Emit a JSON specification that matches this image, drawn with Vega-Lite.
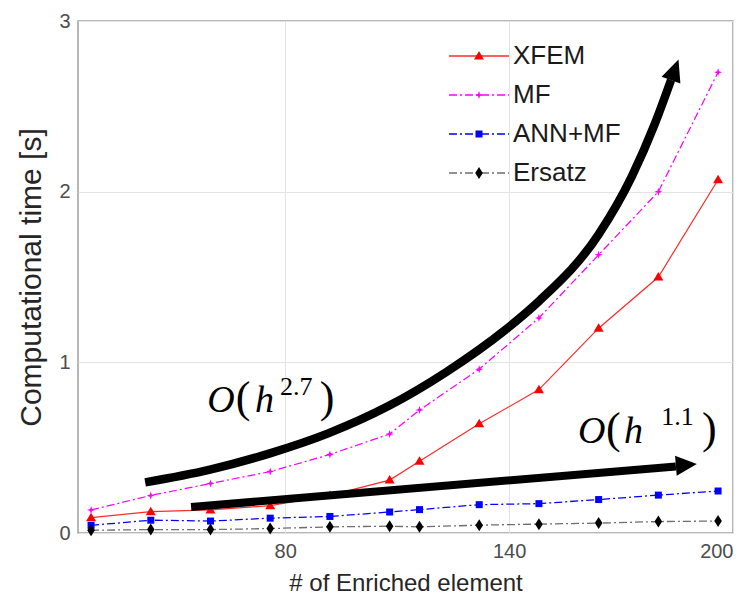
{
  "$schema": "https://vega.github.io/schema/vega-lite/v6.json",
  "width": 655,
  "height": 512,
  "autosize": {"type": "none"},
  "padding": {"left": 78, "top": 21, "right": 20, "bottom": 68},
  "background": "white",
  "config": {
    "view": {"stroke": "#a0a0a0", "strokeWidth": 1.5},
    "axis": {
      "labelFont": "Liberation Sans",
      "labelFontSize": 20,
      "labelColor": "#4d4d4d",
      "titleFont": "Liberation Sans",
      "titleFontSize": 24,
      "titleFontWeight": "normal",
      "titleColor": "#262626",
      "domain": false,
      "ticks": false,
      "gridColor": "#e3e3e3",
      "gridWidth": 1
    }
  },
  "datasets": {
    "series": [
      {"series": "XFEM", "x": 28, "y": 0.09},
      {"series": "XFEM", "x": 44, "y": 0.125},
      {"series": "XFEM", "x": 60, "y": 0.135},
      {"series": "XFEM", "x": 76, "y": 0.16},
      {"series": "XFEM", "x": 92, "y": 0.22},
      {"series": "XFEM", "x": 108, "y": 0.31},
      {"series": "XFEM", "x": 116, "y": 0.42},
      {"series": "XFEM", "x": 132, "y": 0.64},
      {"series": "XFEM", "x": 148, "y": 0.84},
      {"series": "XFEM", "x": 164, "y": 1.2},
      {"series": "XFEM", "x": 180, "y": 1.5},
      {"series": "XFEM", "x": 196, "y": 2.07},
      {"series": "MF", "x": 28, "y": 0.135},
      {"series": "MF", "x": 44, "y": 0.22},
      {"series": "MF", "x": 60, "y": 0.29},
      {"series": "MF", "x": 76, "y": 0.36},
      {"series": "MF", "x": 92, "y": 0.46},
      {"series": "MF", "x": 108, "y": 0.58},
      {"series": "MF", "x": 116, "y": 0.72},
      {"series": "MF", "x": 132, "y": 0.96},
      {"series": "MF", "x": 148, "y": 1.26},
      {"series": "MF", "x": 164, "y": 1.63},
      {"series": "MF", "x": 180, "y": 2.0},
      {"series": "MF", "x": 196, "y": 2.7},
      {"series": "ANN+MF", "x": 28, "y": 0.045},
      {"series": "ANN+MF", "x": 44, "y": 0.075},
      {"series": "ANN+MF", "x": 60, "y": 0.07},
      {"series": "ANN+MF", "x": 76, "y": 0.087},
      {"series": "ANN+MF", "x": 92, "y": 0.097},
      {"series": "ANN+MF", "x": 108, "y": 0.123},
      {"series": "ANN+MF", "x": 116, "y": 0.137},
      {"series": "ANN+MF", "x": 132, "y": 0.166},
      {"series": "ANN+MF", "x": 148, "y": 0.172},
      {"series": "ANN+MF", "x": 164, "y": 0.196},
      {"series": "ANN+MF", "x": 180, "y": 0.222},
      {"series": "ANN+MF", "x": 196, "y": 0.246},
      {"series": "Ersatz", "x": 28, "y": 0.016},
      {"series": "Ersatz", "x": 44, "y": 0.02},
      {"series": "Ersatz", "x": 60, "y": 0.02},
      {"series": "Ersatz", "x": 76, "y": 0.026},
      {"series": "Ersatz", "x": 92, "y": 0.036},
      {"series": "Ersatz", "x": 108, "y": 0.04},
      {"series": "Ersatz", "x": 116, "y": 0.036},
      {"series": "Ersatz", "x": 132, "y": 0.046},
      {"series": "Ersatz", "x": 148, "y": 0.052},
      {"series": "Ersatz", "x": 164, "y": 0.058},
      {"series": "Ersatz", "x": 180, "y": 0.067},
      {"series": "Ersatz", "x": 196, "y": 0.07}
    ],
    "curve": [
      {"x": 42.5, "y": 0.297},
      {"x": 59.6, "y": 0.37},
      {"x": 75.7, "y": 0.465},
      {"x": 91.7, "y": 0.585},
      {"x": 107.8, "y": 0.745},
      {"x": 123.3, "y": 0.945},
      {"x": 139.0, "y": 1.19},
      {"x": 148.1, "y": 1.36},
      {"x": 164.0, "y": 1.75},
      {"x": 172.9, "y": 2.09},
      {"x": 179.1, "y": 2.4},
      {"x": 183.4, "y": 2.654}
    ],
    "straight": [
      {"x": 54.8, "y": 0.152},
      {"x": 184.7, "y": 0.39}
    ],
    "headCurve": [{"x": 185.4, "y": 2.775}],
    "headStraight": [{"x": 190.3, "y": 0.404}],
    "ann": [
      {"part": "O", "x": 59.1, "y": 0.711},
      {"part": "(", "x": 66.8, "y": 0.711},
      {"part": "h", "x": 71.9, "y": 0.711},
      {"part": "2.7", "x": 78.6, "y": 0.808},
      {"part": ")", "x": 89.3, "y": 0.711},
      {"part": "O", "x": 158.5, "y": 0.525},
      {"part": "(", "x": 166.0, "y": 0.525},
      {"part": "h", "x": 170.8, "y": 0.525},
      {"part": "1.1", "x": 180.8, "y": 0.633},
      {"part": ")", "x": 191.7, "y": 0.525}
    ]
  },
  "encoding": {
    "x": {
      "field": "x",
      "type": "quantitative",
      "scale": {"domain": [24.5, 200], "nice": false, "zero": false},
      "axis": {"values": [80, 140, 200], "title": "# of Enriched element", "labelPadding": 8, "titlePadding": 10}
    },
    "y": {
      "field": "y",
      "type": "quantitative",
      "scale": {"domain": [0, 3], "nice": false},
      "axis": {"values": [0, 1, 2, 3], "title": "Computational time [s]", "titleFontSize": 30, "labelPadding": 8, "titlePadding": 12}
    }
  },
  "layer": [
    {
      "data": {"name": "series"},
      "mark": {"type": "line"},
      "encoding": {
        "color": {
          "field": "series",
          "type": "nominal",
          "sort": ["XFEM", "MF", "ANN+MF", "Ersatz"],
          "scale": {"range": ["#ff2a2a", "#ff00ff", "#0000ff", "#6e6e6e"]},
          "legend": {
            "title": null,
            "orient": "none",
            "legendX": 388,
            "legendY": 22,
            "padding": 0,
            "symbolType": "M-3,0L3,0",
            "symbolSize": 400,
            "symbolStrokeWidth": 1.5,
            "labelFont": "Liberation Sans",
            "labelFontSize": 26,
            "labelColor": "#1a1a1a",
            "labelOffset": 21,
            "rowPadding": 13,
            "encode": {"symbols": {"update": {"strokeDash": {"scale": "strokeDash", "field": "value"}}}}
          }
        },
        "strokeDash": {
          "field": "series",
          "type": "nominal",
          "sort": ["XFEM", "MF", "ANN+MF", "Ersatz"],
          "scale": {"range": [[2000, 0], [8, 3, 2, 3], [8, 3, 2, 3], [8, 3, 2, 3]]},
          "legend": null
        },
        "strokeWidth": {
          "field": "series",
          "type": "nominal",
          "sort": ["XFEM", "MF", "ANN+MF", "Ersatz"],
          "scale": {"range": [1.2, 1.3, 1.6, 1.9]},
          "legend": null
        }
      }
    },
    {
      "data": {"name": "series"},
      "mark": {"type": "point", "filled": true, "opacity": 1, "size": 400, "strokeWidth": 0},
      "encoding": {
        "shape": {
          "field": "series",
          "type": "nominal",
          "scale": {
            "domain": ["XFEM", "MF", "ANN+MF", "Ersatz"],
            "range": [
              "M0,-0.5L0.5,0.35L-0.5,0.35Z",
              "M0,-0.4L0.1,-0.1L0.4,0L0.1,0.1L0,0.4L-0.1,0.1L-0.4,0L-0.1,-0.1Z",
              "M-0.35,-0.35H0.35V0.35H-0.35Z",
              "M0,-0.6L0.38,0L0,0.6L-0.38,0Z"
            ]
          },
          "legend": {
            "title": null,
            "orient": "none",
            "legendX": 388,
            "legendY": 22,
            "padding": 0,
            "symbolSize": 400,
            "symbolStrokeWidth": 0,
            "labelFont": "Liberation Sans",
            "labelFontSize": 26,
            "labelOpacity": 0,
            "labelOffset": 21,
            "rowPadding": 13
          }
        },
        "fill": {
          "field": "series",
          "type": "nominal",
          "scale": {"domain": ["XFEM", "MF", "ANN+MF", "Ersatz"], "range": ["#ff0000", "#ff00ff", "#0000ff", "#000000"]},
          "legend": null
        }
      }
    },
    {
      "data": {"name": "curve"},
      "mark": {"type": "line", "interpolate": "monotone", "color": "black", "strokeWidth": 8.5, "strokeCap": "butt"}
    },
    {
      "data": {"name": "straight"},
      "mark": {"type": "line", "color": "black", "strokeWidth": 8, "strokeCap": "butt"}
    },
    {
      "data": {"name": "headCurve"},
      "mark": {"type": "point", "shape": "M0,0L-1,2.2L1,2.2Z", "size": 400, "angle": 20, "filled": true, "color": "black", "opacity": 1, "strokeWidth": 0}
    },
    {
      "data": {"name": "headStraight"},
      "mark": {"type": "point", "shape": "M0,0L-2.1,-1L-2.1,1Z", "size": 400, "angle": -4.8, "filled": true, "color": "black", "opacity": 1, "strokeWidth": 0}
    },
    {
      "data": {"name": "ann"},
      "transform": [{"filter": {"field": "part", "oneOf": ["O", "h"]}}],
      "mark": {"type": "text", "font": "Liberation Serif", "fontStyle": "italic", "fontSize": 38, "align": "left", "baseline": "alphabetic", "color": "black"},
      "encoding": {"text": {"field": "part"}}
    },
    {
      "data": {"name": "ann"},
      "transform": [{"filter": {"field": "part", "oneOf": ["(", ")"]}}],
      "mark": {"type": "text", "font": "Liberation Serif", "fontSize": 44, "align": "left", "baseline": "alphabetic", "color": "black"},
      "encoding": {"text": {"field": "part"}}
    },
    {
      "data": {"name": "ann"},
      "transform": [{"filter": {"field": "part", "oneOf": ["2.7", "1.1"]}}],
      "mark": {"type": "text", "font": "Liberation Serif", "fontSize": 26, "align": "left", "baseline": "alphabetic", "color": "black"},
      "encoding": {"text": {"field": "part"}}
    }
  ]
}
